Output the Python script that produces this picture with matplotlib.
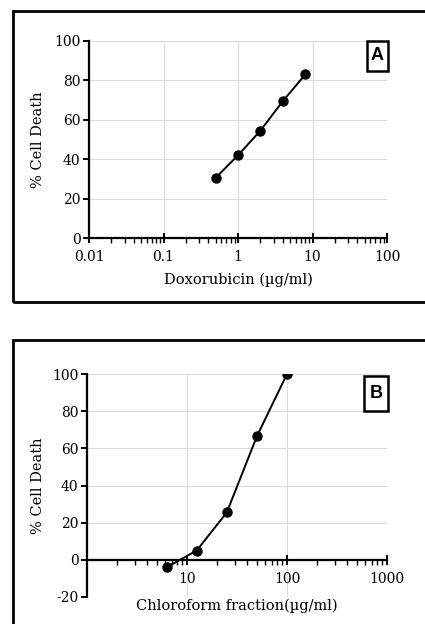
import matplotlib
matplotlib.use("Agg")
import matplotlib.pyplot as plt
from matplotlib.patches import Rectangle
from matplotlib.ticker import LogLocator, FixedLocator, NullFormatter

plt.rcParams['font.family'] = ['DejaVu Serif']
plt.rcParams['axes.unicode_minus'] = False

# Panel A data
dox_conc = [0.5, 1, 2, 4, 8]
dox_death = [30.5, 42, 54.5, 69.5, 83]
a_xticks = [0.01, 0.1, 1, 10, 100]
a_xticklabels = ['0.01', '0.1', '1', '10', '100']
a_yticks = [0, 20, 40, 60, 80, 100]

# Panel B data
chl_conc = [6.25, 12.5, 25, 50, 100]
chl_death = [-4, 5, 25.5, 66.5, 100]
b_xticks = [10, 100, 1000]
b_xticklabels = ['10', '100', '1000']
b_yticks = [-20, 0, 20, 40, 60, 80, 100]

W, H = 425, 624
fig = plt.figure(figsize=(W / 100, H / 100), dpi=100)

def px_axes(l, r, t, b):
    return fig.add_axes([l / W, 1 - b / H, (r - l) / W, (b - t) / H])

def px_box(x0, y0, x1, y1, lw):
    fig.add_artist(Rectangle((x0 / W, 1 - y1 / H), (x1 - x0) / W, (y1 - y0) / H,
                             transform=fig.transFigure, fill=True, facecolor='white',
                             edgecolor='black', lw=lw, clip_on=False, zorder=5))

def px_frame(x0, y0, x1, y1, lw):
    fig.add_artist(Rectangle((x0 / W, 1 - y1 / H), (x1 - x0) / W, (y1 - y0) / H,
                             transform=fig.transFigure, fill=False,
                             edgecolor='black', lw=lw, clip_on=False))

def letter_box(x0, y0, x1, y1, letter):
    px_box(x0, y0, x1, y1, 1.8)
    fig.text((x0 + x1) / 2 / W, 1 - (y0 + y1) / 2 / H, letter, ha='center', va='center',
             fontsize=13, fontweight='bold', family=['Liberation Sans', 'DejaVu Sans'],
             zorder=6)

# outer frames
px_frame(13, 11, 430, 302, 2.0)
px_frame(13, 340, 430, 640, 2.0)

def style(ax, xticks, xlabels, yticks, xlabel):
    ax.set_xscale('log')
    ax.spines['top'].set_visible(False)
    ax.spines['right'].set_visible(False)
    for s in ('left', 'bottom'):
        ax.spines[s].set_linewidth(1.6)
    ax.xaxis.set_major_locator(FixedLocator(xticks))
    ax.set_xticklabels(xlabels)
    ax.xaxis.set_minor_locator(LogLocator(base=10, subs=range(2, 10), numticks=20))
    ax.xaxis.set_minor_formatter(NullFormatter())
    ax.set_yticks(yticks)
    ax.grid(True, which='major', color='#dcdcdc', lw=0.8)
    ax.set_axisbelow(True)
    ax.tick_params(axis='x', which='major', direction='inout', length=7, width=1.4,
                   labelsize=10, pad=5)
    ax.tick_params(axis='x', which='minor', direction='out', length=3.5, width=1.0)
    ax.tick_params(axis='y', which='major', direction='out', length=4, width=1.4,
                   labelsize=10, pad=2)
    ax.set_ylabel('% Cell Death', fontsize=10.5)
    ax.set_xlabel(xlabel, fontsize=10.5)

# Panel A
axA = px_axes(89, 387, 41, 238)
axA.plot(dox_conc, dox_death, color='black', lw=1.4, marker='o', ms=6.5, zorder=3)
axA.set_xlim(0.01, 100)
axA.set_ylim(0, 100)
style(axA, a_xticks, a_xticklabels, a_yticks, 'Doxorubicin (µg/ml)')
axA.yaxis.set_label_coords(-0.148, 0.5)
axA.xaxis.set_label_coords(0.5, -0.178)
letter_box(367, 41, 388, 71, 'A')

# Panel B
axB = px_axes(87, 387, 374, 597)
axB.plot(chl_conc, chl_death, color='black', lw=1.4, marker='o', ms=6.5, zorder=3)
axB.set_xlim(1, 1000)
axB.set_ylim(-20, 100)
axB.spines['bottom'].set_position(('data', 0))
style(axB, b_xticks, b_xticklabels, b_yticks, 'Chloroform fraction(µg/ml)')
axB.yaxis.set_label_coords(-0.14, 0.5)
axB.xaxis.set_label_coords(0.5, -0.005)
letter_box(364, 376, 388, 411, 'B')

fig.savefig('out.png', dpi=100)
